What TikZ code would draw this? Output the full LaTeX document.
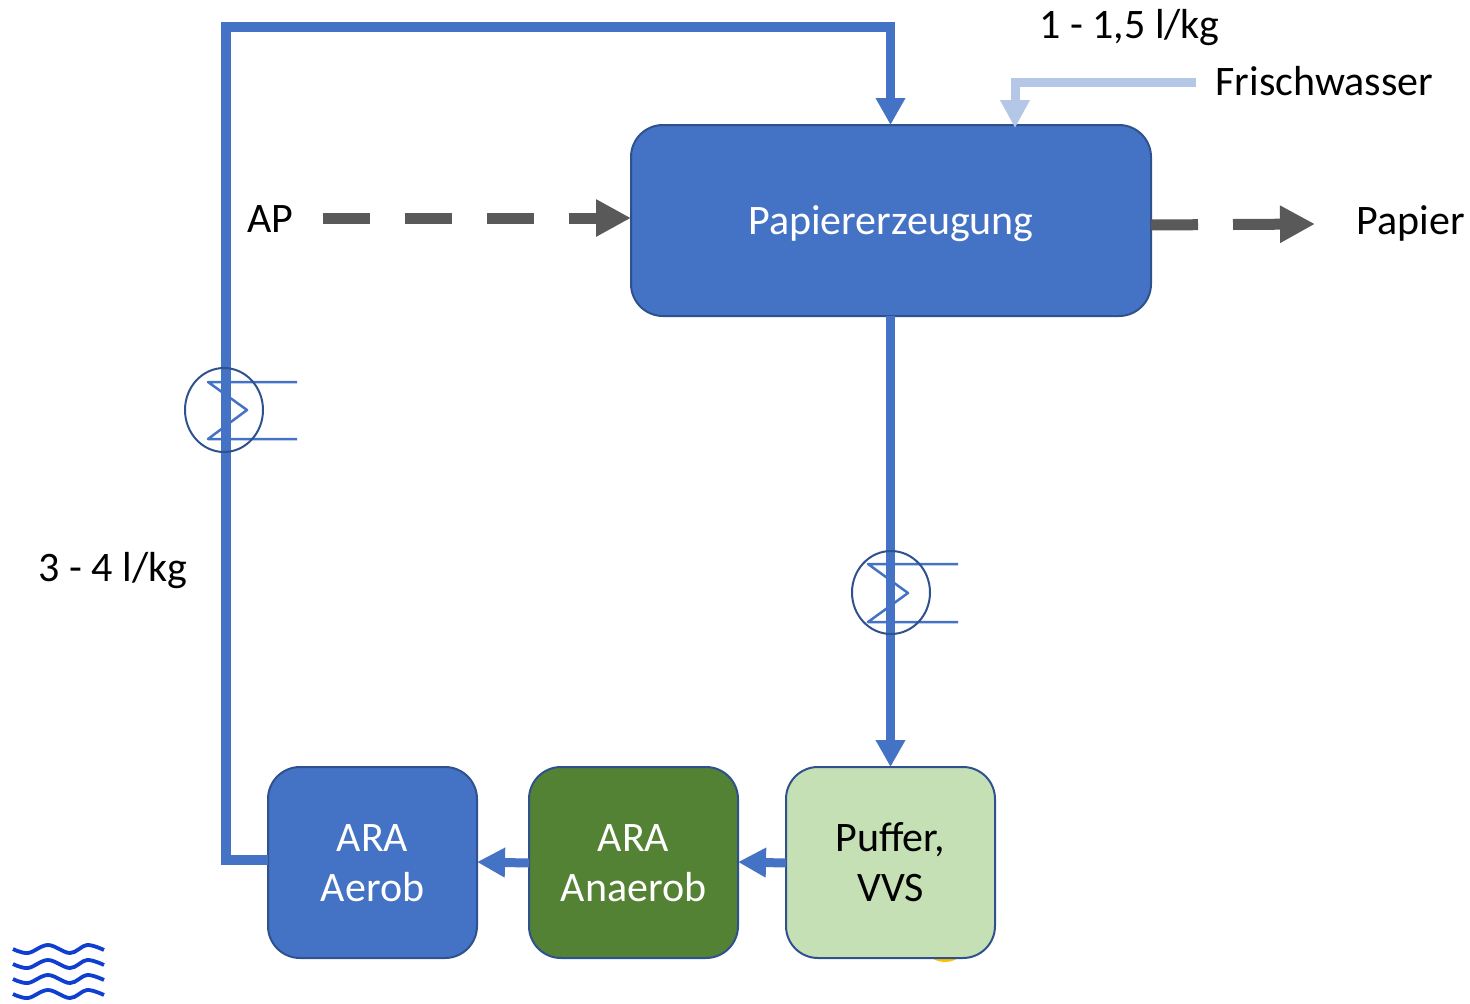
\documentclass[tikz,border=0pt]{standalone}
\usepackage{fontspec}
\setmainfont{Carlito}
\usetikzlibrary{arrows.meta,calc}
\definecolor{mainblue}{HTML}{4472C4}
\definecolor{edgeblue}{HTML}{2F528F}
\definecolor{lightblue}{HTML}{B4C7E7}
\definecolor{darkgreen}{HTML}{548235}
\definecolor{palegreen}{HTML}{C5E0B4}
\definecolor{flowgray}{HTML}{595959}
\definecolor{wavecol}{HTML}{0F3FD0}
\definecolor{sunyellow}{HTML}{FFC000}
\newcommand{\nudge}[2]{\raisebox{-#1pt}[\height][\depth]{#2}}
\tikzset{
  box/.style={draw=edgeblue,line width=2pt,rounded corners=32pt,inner sep=0pt,outer sep=0pt,align=center,
    font=\fontsize{42}{50}\selectfont},
  bluebox/.style={box,fill=mainblue,text=white},
  label/.style={inner sep=0pt,outer sep=0pt,font=\fontsize{42}{50}\selectfont,text=black},
  water/.style={draw=mainblue,line width=9.5pt,-{Triangle[length=27pt,width=28pt]}},
  fresh/.style={draw=lightblue,line width=9pt,-{Triangle[length=28pt,width=28pt]}},
  short/.style={draw=mainblue,line width=9pt,-{Triangle[length=28pt,width=28pt]}},
  grayflow/.style={draw=flowgray,line width=11pt,dash pattern=on 47pt off 35pt,-{Triangle[length=35pt,width=35pt]}},
  hxring/.style={draw=edgeblue,line width=2pt},
  hxzig/.style={draw=mainblue,line width=2.5pt,line join=round},
  wave/.style={draw=wavecol,line width=3.8pt},
}
\begin{document}
\begin{tikzpicture}[x=1pt,y=-1pt]
\useasboundingbox (0,0) rectangle (1470,1004);
% yellow sliver behind the buffer box
\fill[sunyellow] (945,938) circle (24pt);
% nodes
\node[bluebox,minimum width=520pt,minimum height=191pt] (paper) at (891,220.5) {\nudge{3}{Papiererzeugung}};
\node[bluebox,minimum width=209pt,minimum height=191pt] (aerob) at (372.5,862.5) {\nudge{1}{ARA}\\\nudge{1}{Aerob}};
\node[box,fill=darkgreen,text=white,minimum width=209pt,minimum height=191pt] (anaerob) at (633.5,862.5) {\nudge{1}{ARA}\\\nudge{1}{Anaerob}};
\node[box,fill=palegreen,text=black,minimum width=209pt,minimum height=191pt] (puffer) at (890.5,862.5) {Puffer,\\VVS};
% labels
\node[label] (lfresh) at (1324.5,81) {Frischwasser};
\node[label] (lrate) at (1129.5,28) {1 - 1,5 l/kg};
\node[label] (lap) at (270,219) {AP};
\node[label] (lpapier) at (1411,223) {Papier};
\node[label] (lrec) at (113,571) {3 - 4 l/kg};
% free ends
\coordinate (freshstart) at (1196,82);
\coordinate (apstart) at (323,218);
% flows
\draw[water,line join=miter] (aerob.west |- 0,860) -- (226,860) -- (226,27) -- (890.5,27) -- (890.5,125);
\draw[water] (890.5,316) -- (890.5,767);
\draw[short] (anaerob.west |- 0,863) -- (aerob.east |- 0,862);
\draw[short] (puffer.west |- 0,863) -- (anaerob.east |- 0,862);
\draw[fresh,line join=miter] (freshstart) -- (1015,82) -- (1015,128);
\draw[grayflow] (apstart) -- (paper.west |- apstart);
\coordinate (pout) at (paper.east |- 0,225);
\coordinate (pend) at (1315,224);
\draw[grayflow] (pout) -- (pend);
% heat exchangers
\coordinate (hxa) at (224,410);
\coordinate (hxb) at (891,592.5);
\draw[hxzig] (297,382) -- (208,382) -- (247,410) -- (208,439) -- (297,439);
\draw[hxzig] (958,564) -- (868,564) -- (908,593) -- (868,622) -- (958,622);
\draw[draw=mainblue,line width=9.5pt] (226,380) -- (226,445);
\draw[draw=mainblue,line width=9.5pt] (890.5,560) -- (890.5,628);
\draw[hxring] (hxa) ellipse [x radius=39pt,y radius=42pt];
\draw[hxring] (hxb) ellipse [x radius=39pt,y radius=41.5pt];
% waves
\foreach \d in {0,15,30,45}{
  \draw[wave] plot[smooth,tension=0.6] coordinates {(13,949+\d) (28,953+\d) (48,945+\d) (70,953+\d) (87,945+\d) (104,950+\d)};
}
\end{tikzpicture}
\end{document}
